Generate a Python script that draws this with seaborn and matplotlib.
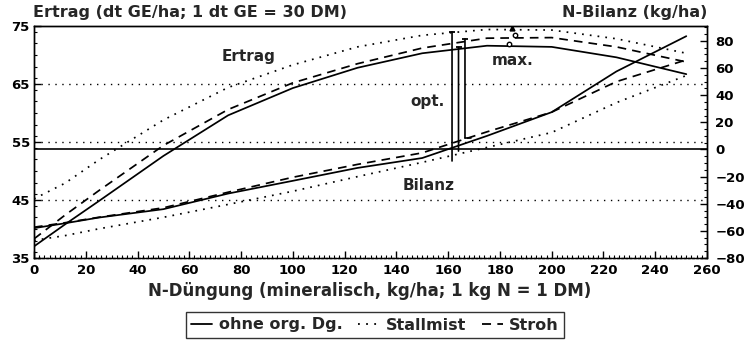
import matplotlib
matplotlib.use("Agg")
import matplotlib.pyplot as plt
import seaborn as sns
import pandas as pd
from matplotlib.patches import ConnectionPatch
from matplotlib.lines import Line2D
from matplotlib.ticker import MultipleLocator

# ---------------- data ----------------
n_duengung = [0, 12, 25, 50, 75, 100, 125, 150, 175, 200, 225, 252]
varianten = ["ohne org. Dg.", "Stallmist", "Stroh"]

ertrag_ohne = [37.0, 40.8, 44.8, 52.6, 59.6, 64.3, 67.8, 70.3, 71.6, 71.4, 69.6, 66.7]
ertrag_stallmist = [45.2, 47.9, 51.9, 58.8, 64.4, 68.3, 71.4, 73.4, 74.4, 74.3, 72.8, 70.3]
ertrag_stroh = [38.3, 42.4, 46.6, 54.4, 60.6, 65.2, 68.5, 71.2, 72.9, 73.0, 71.4, 68.8]

bilanz_ohne = [-58.0, -54.4, -50.2, -44.0, -32.5, -23.1, -13.6, -6.3, 10.0, 27.5, 57.5, 83.5]
bilanz_stallmist = [-67.0, -63.5, -58.5, -50.0, -40.5, -30.8, -20.0, -9.5, 1.5, 12.5, 34.5, 54.5]
bilanz_stroh = [-57.3, -54.0, -50.0, -43.0, -31.5, -20.5, -11.0, -2.5, 13.0, 27.5, 50.0, 66.0]

# optimum (vertical lines) and maximum markers per variant
opt_x = [164.0, 161.5, 166.5]
opt_ertrag = [71.3, 74.0, 72.8]
opt_bilanz = [-1.2, -8.5, 8.5]
max_x = [183.5, 184.5, 186.0]
max_ertrag = [71.9, 74.7, 73.4]

ertrag_ticks = [35, 45, 55, 65, 75]
bilanz_ticks = [-80, -60, -40, -20, 0, 20, 40, 60, 80]
x_ticks = list(range(0, 261, 20))
grid_ertrag = [45, 55, 65]

# ---------------- tables ----------------
def long(values_by_variant):
    rows = []
    for v, vals in zip(varianten, values_by_variant):
        for n, y in zip(n_duengung, vals):
            rows.append({"N": n, "Wert": y, "Variante": v})
    return pd.DataFrame(rows)

df_ertrag = long([ertrag_ohne, ertrag_stallmist, ertrag_stroh])
df_bilanz = long([bilanz_ohne, bilanz_stallmist, bilanz_stroh])

# ---------------- style ----------------
sns.set_theme(style="white")
plt.rcParams["font.family"] = ["DejaVu Sans"]
plt.rcParams["font.weight"] = "bold"

W, H = 746, 342
fig = plt.figure(figsize=(W / 100, H / 100), dpi=100)
ax = fig.add_axes([34 / W, 1 - 258 / H, (707 - 34) / W, (258 - 26) / H])
ax2 = ax.twinx()

dashes = {"ohne org. Dg.": "", "Stallmist": (1, 3.5), "Stroh": (5, 3.5)}

sns.lineplot(data=df_ertrag, x="N", y="Wert", style="Variante", dashes=dashes,
             color="black", lw=1.25, ax=ax, legend=False, estimator=None, sort=False)
sns.lineplot(data=df_bilanz, x="N", y="Wert", style="Variante", dashes=dashes,
             color="black", lw=1.25, ax=ax2, legend=False, estimator=None, sort=False)

# reference lines
for g in grid_ertrag:
    ax.axhline(g, color="black", lw=1.0, ls=(0, (1, 4)), zorder=0)
ax2.axhline(0, color="black", lw=1.2, zorder=0)

ax.set_xlim(0, 260)
ax.set_ylim(35, 75)
ax2.set_ylim(-80, 91)

# optimum lines: from yield curve down to balance curve
for xo, ye, yb in zip(opt_x, opt_ertrag, opt_bilanz):
    con = ConnectionPatch(xyA=(xo, ye), coordsA=ax.transData,
                          xyB=(xo, yb), coordsB=ax2.transData,
                          color="black", lw=1.2)
    fig.add_artist(con)
ax.plot(opt_x, opt_ertrag, ls="none", marker="_", ms=5, mew=1.3, color="black")
ax2.plot([opt_x[2], opt_x[2] + 2.5], [opt_bilanz[2]] * 2, color="black", lw=1.2)

# maximum markers
ax.plot(max_x[0], max_ertrag[0], marker="o", ms=3.2, mfc="white", mec="black", mew=1)
ax.plot(max_x[2], max_ertrag[2], marker="o", ms=3.2, mfc="white", mec="black", mew=1)
ax.plot(max_x[1], max_ertrag[1], marker="^", ms=3.5, color="black")

# annotations
fs = 11
ax.text(83, 69.8, "Ertrag", ha="center", va="center", fontsize=fs)
ax.text(185, 69.1, "max.", ha="center", va="center", fontsize=fs)
ax.text(152, 62.0, "opt.", ha="center", va="center", fontsize=fs)
ax.text(152.5, 47.5, "Bilanz", ha="center", va="center", fontsize=fs)

# ticks
ax.set_xticks(x_ticks)
ax.set_yticks(ertrag_ticks)
ax.xaxis.set_minor_locator(MultipleLocator(2))
ax.yaxis.set_minor_locator(MultipleLocator(2))
ax2.set_yticks(bilanz_ticks)
ax2.yaxis.set_minor_locator(MultipleLocator(5))
ax.tick_params(axis="both", which="major", direction="in", length=5, width=1,
               labelsize=9.5, bottom=True, left=True, top=False, colors="black")
ax.tick_params(axis="both", which="minor", direction="in", length=2.5, width=0.8,
               bottom=True, left=True, top=False, colors="black")
ax2.tick_params(axis="y", which="major", direction="in", length=5, width=1,
                labelsize=9.5, right=True, colors="black", pad=6)
ax2.tick_params(axis="y", which="minor", direction="in", length=2.5, width=0.8,
                right=True, colors="black")
ax.tick_params(axis="y", pad=3)
ax.tick_params(axis="x", pad=4)
for lbl in ax.get_xticklabels() + ax.get_yticklabels() + ax2.get_yticklabels():
    lbl.set_fontweight("bold")

ax.set_xlabel("")
ax.set_ylabel("")
ax2.set_ylabel("")
for a in (ax, ax2):
    for s in a.spines.values():
        s.set_color("black")
        s.set_linewidth(1.0)
ax.spines["bottom"].set_linestyle((0, (1, 2)))

# titles / axis labels
tfs = 11.5
fig.text(33 / W, 1 - 13 / H, "Ertrag (dt GE/ha; 1 dt GE = 30 DM)", ha="left",
         va="center", fontsize=tfs, fontweight="bold")
fig.text(707 / W, 1 - 13 / H, "N-Bilanz (kg/ha)", ha="right", va="center",
         fontsize=tfs, fontweight="bold")
fig.text(370 / W, 1 - 291 / H, "N-Düngung (mineralisch, kg/ha; 1 kg N = 1 DM)",
         ha="center", va="center", fontsize=tfs + 0.5, fontweight="bold")

handles = []
for v in varianten:
    h = Line2D([], [], color="black", lw=1.3)
    if dashes[v] != "":
        h.set_dashes(dashes[v])
    handles.append(h)
leg = fig.legend(handles, varianten, loc="center", bbox_to_anchor=(375 / W, 1 - 325 / H),
                 ncol=3, frameon=True, fancybox=False, edgecolor="black",
                 handlelength=1.3, handletextpad=0.4, columnspacing=1.0,
                 borderpad=0.35, fontsize=tfs)
leg.get_frame().set_linewidth(1.0)
for t in leg.get_texts():
    t.set_fontweight("bold")

fig.savefig("out.png", dpi=100, facecolor="white")
